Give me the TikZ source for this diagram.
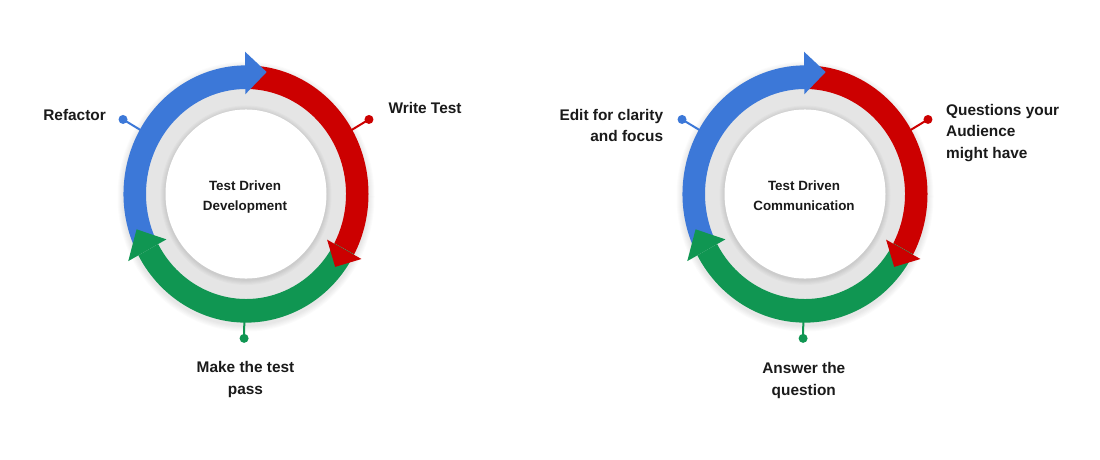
\documentclass[tikz,border=0pt]{standalone}
\usepackage{fontspec}
\setmainfont{Liberation Sans}
\definecolor{cblue}{RGB}{60,120,216}
\definecolor{cred}{RGB}{204,0,0}
\definecolor{cgreen}{RGB}{16,150,82}
\definecolor{cgray}{RGB}{229,229,229}
\definecolor{ctext}{RGB}{26,26,26}
\tikzset{
  dotnode/.style={circle, inner sep=0pt, minimum size=9pt},
  leader/.style={line width=2pt},
  lbl/.style={inner sep=0pt, text=ctext, font=\bfseries\fontsize{15.4}{21.7}\selectfont},
  ctr/.style={inner sep=0pt, text=ctext, font=\bfseries\fontsize{13.4}{20}\selectfont},
}
\newcommand\tdcycle[2]{%
\begin{scope}[shift={(#1,265)}, yscale=1.05]
  \foreach \i in {1,...,6} {\fill[black, opacity=0.015] (0,-2.5) circle (122.5+\i);}
  \fill[cgray] (0,0) circle (100);
  \foreach \i in {1,...,5} {\fill[black, opacity=0.018] (0,-1.2) circle (80.5+\i);}
  \fill[white] (0,0) circle (80.5);
  % shafts
  \fill[cblue] (208:122.5) arc[start angle=208, end angle=90, radius=122.5] -- (90:100) arc[start angle=90, end angle=208, radius=100] -- cycle;
  \fill[cred] (90:122.5) arc[start angle=90, end angle=-28, radius=122.5] -- (-28:100) arc[start angle=-28, end angle=90, radius=100] -- cycle;
  \fill[cgreen] (-28:122.5) arc[start angle=-28, end angle=-151.5, radius=122.5] -- (-151.5:100) arc[start angle=-151.5, end angle=-28, radius=100] -- cycle;
  % heads
  \fill[cblue] (90.4:95) -- (90.4:135.5) -- (79.9:118) -- cycle;
  \fill[cred] (-28.2:92) -- (-28.2:131) -- (-37.9:113) -- cycle;
  \fill[cgreen] (208.5:90.5) -- (208.5:134) -- (197.1:114.5) -- cycle;
  % leaders
  \coordinate (#2b) at (150:121);
  \coordinate (#2r) at (30:121);
  \coordinate (#2g) at (-90.8:121);
  \node[dotnode, fill=cblue] (#2bd) at (150:142) {};
  \node[dotnode, fill=cred] (#2rd) at (30:142) {};
  \node[dotnode, fill=cgreen] (#2gd) at (-90.8:137.5) {};
  \draw[leader, cblue] (#2bd.center) -- (#2b);
  \draw[leader, cred] (#2rd.center) -- (#2r);
  \draw[leader, cgreen] (#2gd.center) -- (#2g);
\end{scope}}
\begin{document}
\begin{tikzpicture}[x=1pt, y=1pt]
  \useasboundingbox (0,0) rectangle (1100,459);
  \fill[white] (0,0) rectangle (1100,459);
  \tdcycle{246}{L}
  \tdcycle{805}{R}
  % left labels
  \node[lbl, anchor=base east] (Lrefactor) at (106,339) {Refactor};
  \node[lbl, anchor=base west] (Lwrite) at (388.3,345.7) {Write Test};
  \node[lbl, anchor=base] (Lmake) at (245.5,86.7) {\begin{tabular}[t]{@{}c@{}}Make the test\\pass\end{tabular}};
  \node[ctr, anchor=base] (Lcenter) at (245,269) {\begin{tabular}[t]{@{}c@{}}Test Driven\\Development\end{tabular}};
  % right labels
  \node[lbl, anchor=base east] (Redit) at (663.3,339) {\begin{tabular}[t]{@{}r@{}}Edit for clarity\\and focus\end{tabular}};
  \node[lbl, anchor=base west] (Rquest) at (946,344) {\begin{tabular}[t]{@{}l@{}}Questions your\\Audience\\might have\end{tabular}};
  \node[lbl, anchor=base] (Ranswer) at (803.8,85.7) {\begin{tabular}[t]{@{}c@{}}Answer the\\question\end{tabular}};
  \node[ctr, anchor=base] (Rcenter) at (804,269) {\begin{tabular}[t]{@{}c@{}}Test Driven\\Communication\end{tabular}};
\end{tikzpicture}
\end{document}
